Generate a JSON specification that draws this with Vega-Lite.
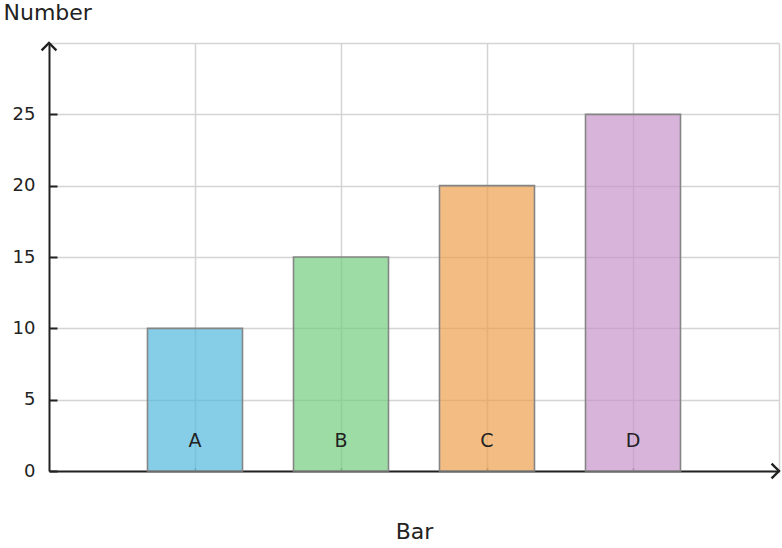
{
  "$schema": "https://vega.github.io/schema/vega-lite/v6.json",
  "width": 730,
  "height": 428,
  "autosize": {"type": "none"},
  "padding": {"left": 49, "top": 43, "right": 3, "bottom": 77},
  "background": "white",
  "config": {
    "font": "DejaVu Sans",
    "view": {"stroke": null},
    "axis": {"labelColor": "#222", "titleColor": "#222", "titleFontWeight": "normal"}
  },
  "datasets": {
    "bars": [
      {"bar": "A", "number": 10},
      {"bar": "B", "number": 15},
      {"bar": "C", "number": 20},
      {"bar": "D", "number": 25}
    ],
    "arrows": [
      {"ax": "end", "ay": 0, "dir": "right"},
      {"ax": "start", "ay": 30, "dir": "up"}
    ]
  },
  "data": {"name": "bars"},
  "encoding": {
    "x": {
      "field": "bar",
      "type": "nominal",
      "scale": {"type": "point", "domain": ["start", "A", "B", "C", "D", "end"], "padding": 0},
      "axis": {
        "values": ["A", "B", "C", "D", "end"],
        "labels": false,
        "grid": true,
        "domainColor": "#222",
        "domainWidth": 2,
        "tickColor": "#666",
        "tickOpacity": {"condition": {"test": "datum.value == 'end'", "value": 0}, "value": 1},
        "tickSize": -3,
        "tickWidth": 1.5,
        "gridColor": "#d4d4d4",
        "gridWidth": 1.5,
        "title": "Bar",
        "titleFontSize": 22,
        "titlePadding": 50
      }
    },
    "y": {
      "field": "number",
      "type": "quantitative",
      "scale": {"domain": [0, 30], "nice": false},
      "axis": {
        "values": [0, 5, 10, 15, 20, 25, 30],
        "labelExpr": "datum.value == 30 ? '' : datum.label",
        "labelFontSize": 18,
        "labelPadding": 22,
        "domainColor": "#222",
        "domainWidth": 2,
        "tickColor": "#222",
        "tickOpacity": {"condition": {"test": "datum.value == 30", "value": 0}, "value": 1},
        "tickSize": -8,
        "tickWidth": 2,
        "gridColor": "#d4d4d4",
        "gridWidth": 1.5,
        "title": "Number",
        "titleFontSize": 22,
        "titleAngle": 0,
        "titleAlign": "left",
        "titleBaseline": "middle",
        "titleX": -46,
        "titleY": -31
      }
    }
  },
  "layer": [
    {
      "mark": {"type": "bar", "width": 95, "stroke": "#858585", "strokeWidth": 1.6, "fillOpacity": 0.7},
      "encoding": {
        "color": {
          "field": "bar",
          "type": "nominal",
          "scale": {"domain": ["A", "B", "C", "D"], "range": ["#53B9DE", "#73CD7F", "#EE9F4F", "#C794CC"]},
          "legend": null
        }
      }
    },
    {
      "mark": {"type": "text", "fontSize": 19, "color": "#222", "baseline": "middle"},
      "encoding": {"y": {"datum": 2.1}, "text": {"field": "bar"}}
    },
    {
      "data": {"name": "arrows"},
      "mark": {"type": "point", "filled": false, "strokeWidth": 2.4, "size": 220, "opacity": 1, "clip": false},
      "encoding": {
        "x": {"field": "ax", "type": "nominal"},
        "y": {"field": "ay", "type": "quantitative"},
        "shape": {
          "field": "dir",
          "type": "nominal",
          "scale": {"domain": ["right", "up"], "range": ["M-1,-1L0,0L-1,1", "M-1,1L0,0L1,1"]},
          "legend": null
        },
        "stroke": {"value": "#222"}
      }
    }
  ]
}
